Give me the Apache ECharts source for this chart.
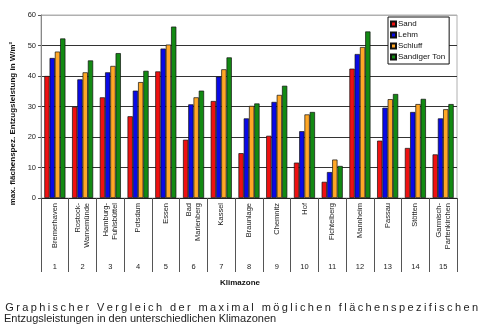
<!DOCTYPE html>
<html><head><meta charset="utf-8">
<script src="https://cdn.jsdelivr.net/npm/echarts@6/dist/echarts.min.js"></script>
<style>html,body{margin:0;padding:0;background:#fff}#c{width:480px;height:330px}</style>
</head><body><div id="c"></div>
<script>
var categories = ['Bremerhaven','Rostock-\nWarnemünde','Hamburg-\nFuhlsbüttel','Potsdam','Essen','Bad\nMarienberg','Kassel','Braunlage','Chemnitz','Hof','Fichtelberg','Mannheim','Passau','Stötten','Garmisch-\nPartenkirchen'];
var zoneNumbers = ['1','2','3','4','5','6','7','8','9','10','11','12','13','14','15'];
var sand    = [40, 29.9, 33, 26.8, 41.5, 19.1, 31.8, 14.7, 20.4, 11.6, 5.3, 42.4, 18.8, 16.4, 14.3];
var lehm    = [45.9, 38.9, 41.2, 35.2, 49, 30.7, 39.8, 26.1, 31.5, 21.9, 8.5, 47.2, 29.6, 28.2, 26.1];
var schluff = [48, 41.2, 43.3, 38, 50.3, 33, 42.2, 30.2, 33.8, 27.4, 12.6, 49.5, 32.4, 30.8, 29.1];
var ton     = [52.3, 45.1, 47.5, 41.7, 56.2, 35.2, 46.1, 31, 36.8, 28.2, 10.5, 54.6, 34.1, 32.5, 30.8];
var seriesNames = ['Sand','Lehm','Schluff','Sandiger Ton'];
var yTicks = [0, 10, 20, 30, 40, 50, 60];

var titleLine1 = 'Graphischer Vergleich der maximal möglichen flächenspezifischen';
var titleLine2 = 'Entzugsleistungen in den unterschiedlichen Klimazonen';
var FONT = '"Liberation Sans", Arial, sans-serif';

var chart = echarts.init(document.getElementById('c'), null, {renderer:'canvas'});
var colors = ['#ee1111','#0a0ae6','#ffa726','#138a13'];
function bar(name, data, i){
  return {name:name, type:'bar', data:data, barGap:'0%', barCategoryGap:'24%',
    itemStyle:{color:colors[i], borderColor:'#111', borderWidth:0.7}};
}
chart.setOption({
  animation:false,
  textStyle:{fontFamily:FONT},
  title:[
    {text: titleLine1.split('').map(function(c){return '{s|'+c+'}';}).join(''), left:4, top:302, padding:0,
     textStyle:{fontWeight:'normal', rich:{s:{fontSize:11, fontWeight:'normal', fontFamily:FONT, color:'#222', padding:[0,1.2,0,1.2]}}}},
    {text: titleLine2, left:4, top:313, padding:0, textStyle:{fontSize:11, fontWeight:'normal', fontFamily:FONT, color:'#222'}}
  ],
  legend:{orient:'vertical', left:388, top:17, itemWidth:5, itemHeight:5, itemGap:3, icon:'rect',
    backgroundColor:'#fff', borderColor:'#111', borderWidth:1, padding:[3,4,3,2],
    textStyle:{fontSize:8, color:'#111', fontFamily:FONT, padding:[0,0,0,-3]}, data:seriesNames},
  grid:{left:41, right:23, top:15, bottom:132, show:true, borderColor:'#b0b0b0', borderWidth:1, backgroundColor:'#fff'},
  xAxis:[
    {type:'category', data:categories, position:'bottom',
     axisLine:{lineStyle:{color:'#222', width:1}},
     axisTick:{show:true, interval:0, length:74, lineStyle:{color:'#555'}},
     axisLabel:{interval:0, rotate:90, fontSize:7.5, color:'#222', margin:5, lineHeight:9}},
    {type:'category', data:zoneNumbers, position:'bottom', offset:64,
     axisLine:{show:false}, axisTick:{show:false},
     axisLabel:{interval:0, fontSize:7.5, color:'#222', margin:1},
     name:'Klimazone', nameLocation:'middle', nameGap:17,
     nameTextStyle:{fontSize:8, fontWeight:'bold', color:'#111', padding:[0,18,0,0]}}
  ],
  yAxis:{type:'value', min:yTicks[0], max:yTicks[yTicks.length-1], interval:10,
    axisLine:{show:true, lineStyle:{color:'#888'}},
    axisTick:{show:true, length:3, lineStyle:{color:'#555'}},
    axisLabel:{fontSize:7.5, color:'#222', margin:5},
    splitLine:{lineStyle:{color:['#333','#333','#333','#333','#333','#333','#b0b0b0'], width:1}},
    name:'max. flächenspez. Entzugsleistung in W/m²', nameLocation:'middle', nameGap:21,
    nameTextStyle:{fontSize:8, fontWeight:'bold', color:'#111', padding:[0,34,0,0]}},
  series:[bar('Sand',sand,0), bar('Lehm',lehm,1), bar('Schluff',schluff,2), bar('Sandiger Ton',ton,3)]
});
</script></body></html>
